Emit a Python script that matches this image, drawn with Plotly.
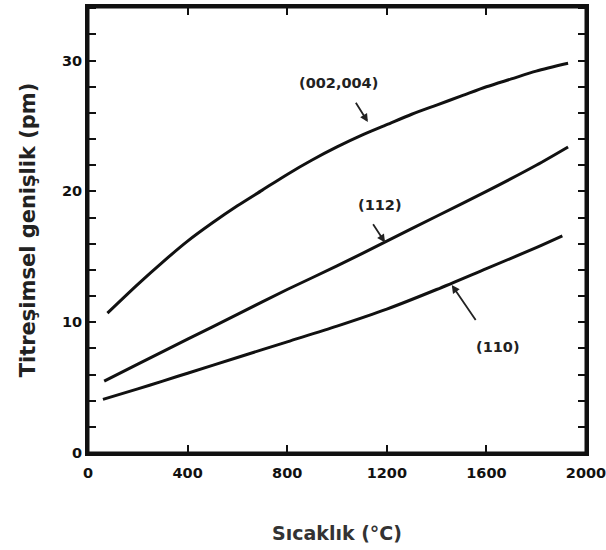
import plotly.graph_objects as go

# (002,004)
x_002 = [78, 200, 300, 400, 500, 600, 700, 800, 900, 1000, 1100, 1200, 1300, 1400, 1500, 1600, 1700, 1800, 1928]
y_002 = [10.7, 12.9, 14.6, 16.2, 17.6, 18.9, 20.1, 21.3, 22.4, 23.4, 24.3, 25.1, 25.9, 26.6, 27.3, 28.0, 28.6, 29.2, 29.8]
# (112)
x_112 = [65, 200, 400, 600, 800, 1000, 1200, 1400, 1600, 1800, 1928]
y_112 = [5.5, 6.8, 8.7, 10.6, 12.5, 14.3, 16.2, 18.1, 20.0, 22.0, 23.4]
# (110)
x_110 = [60, 200, 300, 400, 600, 800, 1000, 1200, 1400, 1600, 1800, 1905]
y_110 = [4.1, 4.9, 5.5, 6.1, 7.3, 8.5, 9.7, 11.0, 12.5, 14.1, 15.7, 16.6]

labels = ["(002,004)", "(112)", "(110)"]
label_pos = [(1004, 28.3), (1173, 19.0), (1647, 8.1)]
arrow_head = [(1124, 25.3), (1193, 16.1), (1461, 12.85)]
arrow_tail = [(1072, 26.9), (1141, 17.6), (1561, 10.05)]

fig = go.Figure()
for xs, ys in [(x_002, y_002), (x_112, y_112), (x_110, y_110)]:
    fig.add_trace(go.Scatter(x=xs, y=ys, mode="lines",
                             line=dict(color="#111", width=3, shape="spline", smoothing=0.8),
                             showlegend=False, hoverinfo="skip"))

for lab, (tx, ty), (hx, hy), (ax_, ay_) in zip(labels, label_pos, arrow_head, arrow_tail):
    fig.add_annotation(x=tx, y=ty, text=lab, showarrow=False,
                       font=dict(family="DejaVu Sans", size=14.5, color="#222", weight="bold"))
    fig.add_annotation(x=hx, y=hy, ax=ax_, ay=ay_, axref="x", ayref="y", text="", showarrow=True,
                       arrowhead=2, arrowsize=0.9, arrowwidth=1.8, arrowcolor="#222")

# plot frame
fig.add_shape(type="rect", xref="paper", yref="paper", x0=0, x1=1, y0=0, y1=1,
              line=dict(color="#111", width=3), layer="above")

tickfont = dict(family="DejaVu Sans", size=14.5, color="#111", weight="bold")
fig.update_layout(
    width=606, height=550,
    margin=dict(l=88, r=20, t=7, b=97),
    plot_bgcolor="white", paper_bgcolor="white",
    font=dict(family="DejaVu Sans", color="#222"),
)
fig.update_xaxes(range=[0, 2000], dtick=400, tick0=0, showgrid=False, zeroline=False,
                 showline=True, linecolor="#111", linewidth=3, mirror="ticks",
                 ticks="inside", ticklen=8, tickwidth=2, tickcolor="#111",
                 tickfont=tickfont, automargin=False, ticklabelstandoff=5,
                 ticklabeloverflow="allow",
                 title=dict(text="Sıcaklık (°C)",
                            font=dict(family="DejaVu Sans", size=19, color="#333", weight="bold"),
                            standoff=47))
fig.update_yaxes(range=[0, 34.1], dtick=10, tick0=0, showgrid=False, zeroline=False,
                 showline=True, linecolor="#111", linewidth=3, mirror="ticks",
                 ticks="inside", ticklen=8, tickwidth=2, tickcolor="#111",
                 minor=dict(dtick=2, ticks="inside", ticklen=8, tickwidth=2, tickcolor="#111"),
                 tickfont=tickfont, automargin=False, ticklabeloverflow="allow",
                 title=dict(text="Titreşimsel genişlik (pm)",
                            font=dict(family="DejaVu Sans", size=21, color="#222", weight="bold"),
                            standoff=21))

fig.write_html("out.html", config={"displayModeBar": False},
               post_script="document.body.style.margin='0px';document.body.style.overflow='hidden';")
